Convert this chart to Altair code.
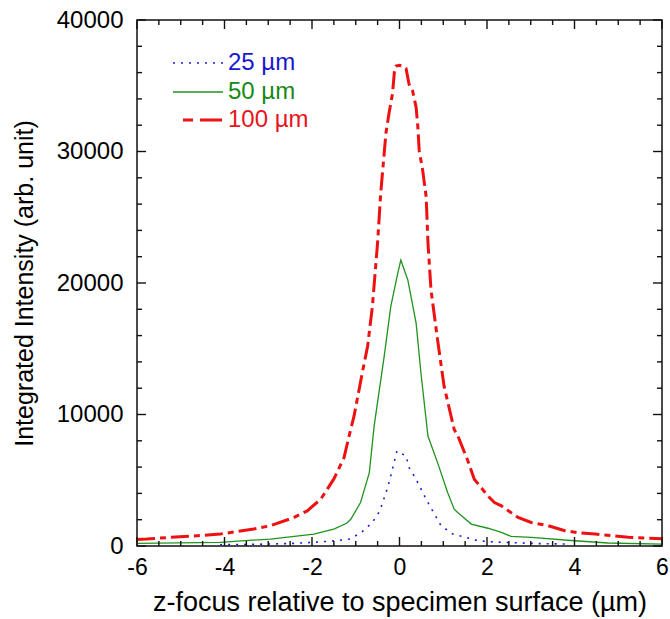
import altair as alt
import pandas as pd

# Integrated intensity vs. z-focus for three aperture sizes
z_100 = [-6.0, -5.78, -5.24, -4.63, -4.1, -3.33, -2.95, -2.41, -2.11, -1.8, -1.5,
         -1.27, -1.15, -1.04, -0.85, -0.73, -0.62, -0.5, -0.43, -0.31, -0.24, -0.16,
         -0.11, -0.08, 0.0, 0.08, 0.15, 0.22, 0.3, 0.38, 0.42, 0.45, 0.53, 0.61, 0.65,
         0.72, 0.87, 1.02, 1.25, 1.33, 1.56, 1.71, 2.02, 2.17, 2.33, 2.71, 3.01, 3.4,
         3.78, 4.16, 4.47, 4.85, 5.23, 6.0]
i_100 = [500, 530, 660, 780, 910, 1290, 1540, 2170, 2670, 3560, 5100,
         6700, 8400, 9870, 13180, 15170, 18200, 23100, 26800, 31400, 32900, 34400,
         36300, 36500, 36550, 36500, 36300, 35100, 34600, 33360, 31840, 30080, 28560, 26540, 23100,
         19470, 15680, 12140, 8860, 8400, 6500, 5080, 3810, 3310, 3050, 2170, 1790, 1540,
         1160, 980, 910, 780, 660, 560]

z_50 = [-6.0, -4.1, -2.95, -1.96, -1.5, -1.2, -1.11, -0.89, -0.69, -0.58, -0.46, -0.35,
        -0.2, -0.04, 0.03, 0.19, 0.38, 0.49, 0.65, 0.87, 1.1, 1.25, 1.33, 1.64, 2.02,
        2.33, 2.55, 3.01, 4.0, 4.77, 6.0]
i_50 = [200, 280, 530, 910, 1290, 1750, 2050, 3310, 5580, 9110, 11890, 14420,
        18200, 20730, 21740, 20230, 16950, 13160, 8360, 6340, 4070, 2800, 2550, 1670, 1350,
        1040, 730, 660, 400, 230, 150]

z_25 = [-4.1, -3.5, -2.95, -2.41, -1.96, -1.46, -1.15, -0.89, -0.62, -0.45, -0.36, -0.27,
        -0.2, -0.06, 0.15, 0.22, 0.38, 0.53, 0.65, 0.8, 0.95, 1.22, 1.52, 1.79, 2.2, 2.78,
        3.3, 3.86]
i_25 = [100, 120, 150, 200, 280, 400, 530, 980, 1790, 2670, 3560, 4450,
        5330, 7220, 6840, 5960, 5080, 4070, 3310, 2420, 1540, 910, 660, 400, 300, 230,
        170, 150]

series = ["25 µm", "50 µm", "100 µm"]
colors = ["#1a1ad8", "#1f931f", "#ee1111"]
text_colors = ["#1717d0", "#168a16", "#e8141b"]

x_major = [-6.0, -4.0, -2.0, 0.0, 2.0, 4.0, 6.0]
x_minor = [v / 2 for v in range(-12, 13) if v % 4 != 0]
y_major = [0.0, 10000.0, 20000.0, 30000.0, 40000.0]
y_minor = [float(v) for v in range(0, 40001, 2000) if v % 10000 != 0]

W, H = 525, 526
FONT = "Liberation Sans"
MAJ, MIN = 9, 5
X0, X1, Y0, Y1 = -6.0, 6.0, 0.0, 40000.0

xs = alt.Scale(domain=[X0, X1], nice=False, zero=False)
ys = alt.Scale(domain=[Y0, Y1], nice=False)

x_axis = alt.Axis(values=[-6, -4, -2, 0, 2, 4, 6], ticks=False, domain=False, grid=False,
                  labelExpr="datum.value + ''", labelFlush=False,
                  labelFontSize=23, labelFont=FONT, labelColor="#000",
                  labelPadding=10, title="z-focus relative to specimen surface (µm)",
                  titleFontSize=27, titleFont=FONT, titleFontWeight="normal",
                  titleColor="#000", titlePadding=10)
y_axis = alt.Axis(values=[0, 10000, 20000, 30000, 40000], ticks=False, domain=False, grid=False,
                  labelExpr="datum.value + ''", labelFlush=False,
                  labelFontSize=24, labelFont=FONT, labelColor="#000",
                  labelPadding=14, title="Integrated Intensity (arb. unit)",
                  titleFontSize=25, titleFont=FONT, titleFontWeight="normal",
                  titleColor="#000", titlePadding=19)


def curve(z, i, color, width, dash=None):
    df = pd.DataFrame({"z": z, "I": i})
    kw = dict(color=color, strokeWidth=width)
    if dash:
        kw["strokeDash"] = dash
    return alt.Chart(df).mark_line(**kw).encode(
        x=alt.X("z:Q", scale=xs, axis=x_axis),
        y=alt.Y("I:Q", scale=ys, axis=y_axis),
        order="z:Q",
    )


lines = [
    curve(z_25, i_25, colors[0], 1.6, [2, 6]),
    curve(z_50, i_50, colors[1], 1.3),
    curve(z_100, i_100, colors[2], 3, [18, 5, 6, 5]),
]

# inward frame ticks: short two-point segments, one per tick, on all four sides
px_y = (Y1 - Y0) / H
px_x = (X1 - X0) / W
rows = []
seg = 0
for vals, n in ((x_major, MAJ), (x_minor, MIN)):
    for v in vals:
        for a, b in ((Y0, Y0 + n * px_y), (Y1, Y1 - n * px_y)):
            rows += [{"z": v, "I": a, "k": 0, "seg": seg}, {"z": v, "I": b, "k": 1, "seg": seg}]
            seg += 1
for vals, n in ((y_major, MAJ), (y_minor, MIN)):
    for v in vals:
        for a, b in ((X0, X0 + n * px_x), (X1, X1 - n * px_x)):
            rows += [{"z": a, "I": v, "k": 0, "seg": seg}, {"z": b, "I": v, "k": 1, "seg": seg}]
            seg += 1
tick_df = pd.DataFrame(rows)
ticks = alt.Chart(tick_df).mark_line(color="#111", strokeWidth=1.4).encode(
    x=alt.X("z:Q", scale=xs), y=alt.Y("I:Q", scale=ys),
    detail="seg:N", order="k:Q")

# legend drawn inside the plot, upper left
legend_rows = [43, 72, 100]
legend_df = [pd.DataFrame({"label": [s]}) for s in series]
legend = [
    alt.Chart(legend_df[0]).mark_rule(color=colors[0], strokeWidth=1.6, strokeDash=[2, 6]).encode(
        x=alt.value(36), x2=alt.value(86), y=alt.value(legend_rows[0])),
    alt.Chart(legend_df[1]).mark_rule(color=colors[1], strokeWidth=1.3).encode(
        x=alt.value(36), x2=alt.value(86), y=alt.value(legend_rows[1])),
    alt.Chart(legend_df[2]).mark_rule(color=colors[2], strokeWidth=3, strokeDash=[10, 7, 22, 100]).encode(
        x=alt.value(46), x2=alt.value(85), y=alt.value(legend_rows[2])),
]
for df, tc, yy in zip(legend_df, text_colors, legend_rows):
    legend.append(
        alt.Chart(df).mark_text(align="left", baseline="middle", font=FONT, fontSize=24,
                                color=tc).encode(
            x=alt.value(91), y=alt.value(yy), text="label:N")
    )

chart = alt.layer(*lines, ticks, *legend).properties(
    width=W, height=H,
    autosize=alt.AutoSizeParams(type="none"),
    padding={"left": 137, "top": 20, "right": 8, "bottom": 73},
).configure_view(stroke="#111", strokeWidth=1.5)

chart.save("out.html", embed_options={"renderer": "svg", "actions": False})
